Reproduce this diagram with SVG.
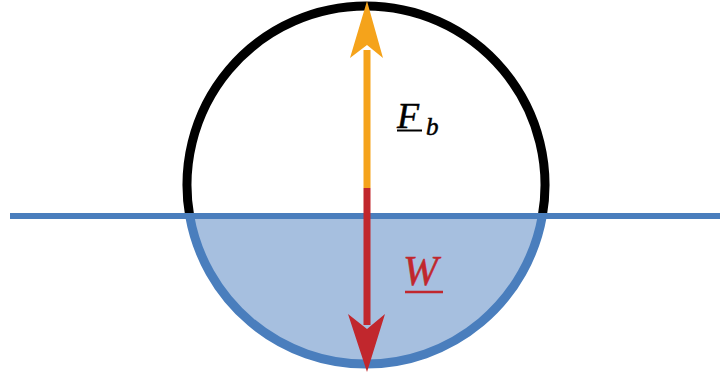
<svg xmlns="http://www.w3.org/2000/svg" width="720" height="372" viewBox="0 0 720 372">
<style>
.lbl{font-family:"Liberation Serif","Times New Roman",serif;font-style:italic;stroke-width:0.5}
</style>
<rect width="720" height="372" fill="#ffffff"/>
<g id="body">
<path d="M189.7,216 A179,179 0 0 0 542.3,216 Z" fill="#a6bfdf"/>
<path d="M189.7,216 A179,179 0 1 1 542.3,216" fill="none" stroke="#000000" stroke-width="9"/>
<path d="M189.7,216 A179,179 0 0 0 542.3,216" fill="none" stroke="#4a7ebd" stroke-width="9"/>
</g>
<g id="water">
<line x1="10" y1="216" x2="720" y2="216" stroke="#4a7ebd" stroke-width="6"/>
</g>
<g id="connectors">
<line x1="367" y1="188" x2="367" y2="50" stroke="#f5a31b" stroke-width="7"/>
<polygon points="367,1 383,58 367,45 350,58" fill="#f5a31b"/>
<line x1="367" y1="188" x2="367" y2="325" stroke="#c1272d" stroke-width="7"/>
<polygon points="367,372 385,314 367,329 348,314" fill="#c1272d"/>
</g>
<g id="label-fb">
<text class="lbl" x="397" y="128" font-size="36" fill="#000000" stroke="#000000">F</text>
<text class="lbl" x="426" y="135" font-size="25" fill="#000000" stroke="#000000">b</text>
<line x1="397" y1="130.5" x2="422" y2="130.5" stroke="#000000" stroke-width="2"/>
</g>
<g id="label-w">
<text class="lbl" x="403" y="285" font-size="42" fill="#c1272d" stroke="#c1272d">W</text>
<line x1="405" y1="292" x2="443" y2="292" stroke="#c1272d" stroke-width="2.5"/>
</g>
</svg>
